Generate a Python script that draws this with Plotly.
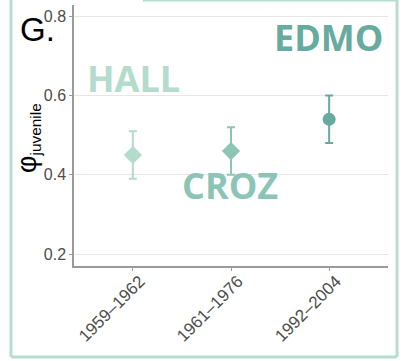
import plotly.graph_objects as go

categories = ["1959–1962", "1961–1976", "1992–2004"]
colonies = ["HALL", "CROZ", "EDMO"]
phi_mean = [0.45, 0.46, 0.54]
phi_low = [0.39, 0.40, 0.48]
phi_high = [0.51, 0.52, 0.60]
symbols = ["diamond", "diamond", "circle"]
colors = ["#b3dccd", "#8cc5b6", "#67aa9f"]
y_ticks = [0.2, 0.4, 0.6, 0.8]

W, H = 402, 361
L, R, T, B = 74, 14, 5, 95
pw, ph = W - L - R, H - T - B

def px(x):
    return (x - L) / pw

def py(y):
    return (H - B - y) / ph

fig = go.Figure()
for i in range(3):
    fig.add_trace(go.Scatter(
        x=[categories[i]], y=[phi_mean[i]], mode="markers",
        marker=dict(symbol=symbols[i], size=14 if symbols[i] == "diamond" else 13,
                    color=colors[i], line=dict(width=0)),
        error_y=dict(type="data", symmetric=False,
                     array=[phi_high[i] - phi_mean[i]],
                     arrayminus=[phi_mean[i] - phi_low[i]],
                     color=colors[i], thickness=2, width=4),
        showlegend=False, cliponaxis=False))

fig.update_layout(
    width=W, height=H, margin=dict(l=L, r=R, t=T, b=B, autoexpand=False),
    paper_bgcolor="white", plot_bgcolor="white",
    font=dict(family="Liberation Sans, Arial, sans-serif"),
    xaxis=dict(type="category", range=[-0.6, 2.6], tickangle=-45,
               showgrid=False, showline=True, linecolor="#9a9a9a", linewidth=1.5,
               ticks="outside", ticklen=3, tickcolor="#9a9a9a",
               ticklabelshift=7, ticklabelstandoff=-6,
               tickfont=dict(size=17, color="#4d4d4d"), zeroline=False),
    yaxis=dict(range=[0.1705, 0.8277], tickvals=y_ticks, ticktext=[str(v) for v in y_ticks],
               showgrid=True, gridcolor="#e6e6e6", gridwidth=1,
               showline=True, linecolor="#9a9a9a", linewidth=1.5,
               ticks="outside", ticklen=3, tickcolor="#9a9a9a",
               tickfont=dict(size=16, color="#4d4d4d"), zeroline=False),
)

# outer frame
fc = "#b5ddd0"
fig.add_shape(type="line", xref="paper", yref="paper", x0=px(11), x1=px(11), y0=py(-2), y1=py(357), line=dict(color=fc, width=3))
fig.add_shape(type="line", xref="paper", yref="paper", x0=px(11), x1=px(397), y0=py(357), y1=py(357), line=dict(color=fc, width=3))
fig.add_shape(type="line", xref="paper", yref="paper", x0=px(397), x1=px(397), y0=py(-2), y1=py(357), line=dict(color=fc, width=3))
fig.add_shape(type="line", xref="paper", yref="paper", x0=px(143), x1=px(397), y0=py(0), y1=py(0), line=dict(color=fc, width=3))

label_pos = [(133, 78), (230, 185), (328, 38)]
for i in range(3):
    fig.add_annotation(text="<b>%s</b>" % colonies[i], xref="paper", yref="paper",
                       x=px(label_pos[i][0]), y=py(label_pos[i][1]), showarrow=False,
                       xanchor="center", yanchor="middle",
                       font=dict(family="Open Sans", size=36, color=colors[i]))

fig.add_annotation(text="G.", xref="paper", yref="paper", x=px(37), y=py(29),
                   showarrow=False, xanchor="center", yanchor="middle",
                   font=dict(family="Liberation Sans", size=33, color="black"))

fig.add_annotation(text="<span style='font-size:27px'>φ</span><sub>juvenile</sub>",
                   xref="paper", yref="paper",
                   x=px(28), y=py(138), showarrow=False, textangle=-90,
                   xanchor="center", yanchor="middle",
                   font=dict(family="Liberation Sans", size=22, color="black"))

fig.write_html("out.html", config={"displayModeBar": False},
               post_script="document.body.style.margin='0';document.body.style.overflow='hidden';")
